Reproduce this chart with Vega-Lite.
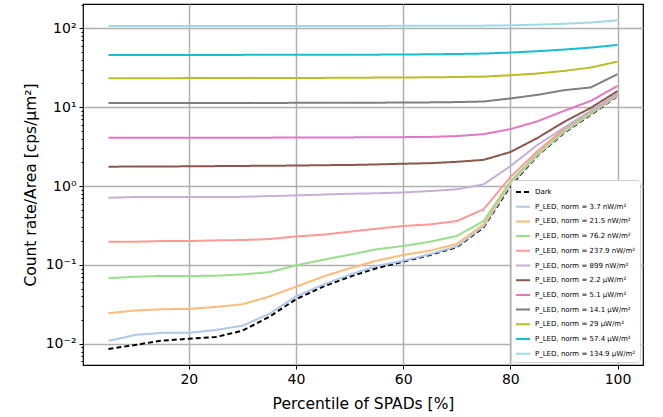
{
  "$schema": "https://vega.github.io/schema/vega-lite/v6.json",
  "width": 560,
  "height": 361,
  "autosize": "none",
  "padding": {"left": 83, "top": 4, "right": 20, "bottom": 52},
  "background": "white",
  "config": {
    "font": "DejaVu Sans",
    "view": {"stroke": "black", "strokeWidth": 1.2},
    "axis": {"labelFont": "DejaVu Sans", "titleFont": "DejaVu Sans", "labelFontSize": 14, "titleFontSize": 15.5, "titleFontWeight": "normal", "labelColor": "black", "titleColor": "black", "tickColor": "black", "domain": false, "gridColor": "#b0b0b0", "gridWidth": 1.5}
  },
  "data": {"values": [
    {"s":"Dark","x":5,"y":0.0086},{"s":"Dark","x":10,"y":0.0097},{"s":"Dark","x":15,"y":0.011},{"s":"Dark","x":20,"y":0.0116},{"s":"Dark","x":25,"y":0.0122},{"s":"Dark","x":30,"y":0.0147},{"s":"Dark","x":35,"y":0.022},{"s":"Dark","x":40,"y":0.0368},{"s":"Dark","x":45,"y":0.053},{"s":"Dark","x":50,"y":0.071},{"s":"Dark","x":55,"y":0.091},{"s":"Dark","x":60,"y":0.11},{"s":"Dark","x":65,"y":0.134},{"s":"Dark","x":70,"y":0.168},{"s":"Dark","x":75,"y":0.3},{"s":"Dark","x":80,"y":1.0},{"s":"Dark","x":85,"y":2.4},{"s":"Dark","x":90,"y":4.7},{"s":"Dark","x":95,"y":8.0},{"s":"Dark","x":100,"y":13.8},
    {"s":"a","x":5,"y":0.0109},{"s":"a","x":10,"y":0.013},{"s":"a","x":15,"y":0.0138},{"s":"a","x":20,"y":0.0138},{"s":"a","x":25,"y":0.015},{"s":"a","x":30,"y":0.017},{"s":"a","x":35,"y":0.024},{"s":"a","x":40,"y":0.04},{"s":"a","x":45,"y":0.056},{"s":"a","x":50,"y":0.075},{"s":"a","x":55,"y":0.097},{"s":"a","x":60,"y":0.113},{"s":"a","x":65,"y":0.137},{"s":"a","x":70,"y":0.172},{"s":"a","x":75,"y":0.31},{"s":"a","x":80,"y":1.05},{"s":"a","x":85,"y":2.45},{"s":"a","x":90,"y":4.8},{"s":"a","x":95,"y":8.2},{"s":"a","x":100,"y":14.0},
    {"s":"b","x":5,"y":0.0245},{"s":"b","x":10,"y":0.0265},{"s":"b","x":15,"y":0.0275},{"s":"b","x":20,"y":0.0277},{"s":"b","x":25,"y":0.0294},{"s":"b","x":30,"y":0.0318},{"s":"b","x":35,"y":0.0398},{"s":"b","x":40,"y":0.053},{"s":"b","x":45,"y":0.071},{"s":"b","x":50,"y":0.091},{"s":"b","x":55,"y":0.113},{"s":"b","x":60,"y":0.134},{"s":"b","x":65,"y":0.152},{"s":"b","x":70,"y":0.185},{"s":"b","x":75,"y":0.327},{"s":"b","x":80,"y":1.1},{"s":"b","x":85,"y":2.5},{"s":"b","x":90,"y":4.9},{"s":"b","x":95,"y":8.3},{"s":"b","x":100,"y":14.2},
    {"s":"c","x":5,"y":0.068},{"s":"c","x":10,"y":0.071},{"s":"c","x":15,"y":0.0726},{"s":"c","x":20,"y":0.0726},{"s":"c","x":25,"y":0.073},{"s":"c","x":30,"y":0.076},{"s":"c","x":35,"y":0.081},{"s":"c","x":40,"y":0.099},{"s":"c","x":45,"y":0.116},{"s":"c","x":50,"y":0.135},{"s":"c","x":55,"y":0.158},{"s":"c","x":60,"y":0.174},{"s":"c","x":65,"y":0.197},{"s":"c","x":70,"y":0.233},{"s":"c","x":75,"y":0.36},{"s":"c","x":80,"y":1.15},{"s":"c","x":85,"y":2.55},{"s":"c","x":90,"y":4.95},{"s":"c","x":95,"y":8.4},{"s":"c","x":100,"y":14.3},
    {"s":"d","x":5,"y":0.197},{"s":"d","x":10,"y":0.197},{"s":"d","x":15,"y":0.201},{"s":"d","x":20,"y":0.201},{"s":"d","x":25,"y":0.205},{"s":"d","x":30,"y":0.207},{"s":"d","x":35,"y":0.213},{"s":"d","x":40,"y":0.23},{"s":"d","x":45,"y":0.242},{"s":"d","x":50,"y":0.264},{"s":"d","x":55,"y":0.288},{"s":"d","x":60,"y":0.312},{"s":"d","x":65,"y":0.327},{"s":"d","x":70,"y":0.36},{"s":"d","x":75,"y":0.507},{"s":"d","x":80,"y":1.3},{"s":"d","x":85,"y":2.75},{"s":"d","x":90,"y":5.3},{"s":"d","x":95,"y":8.9},{"s":"d","x":100,"y":14.6},
    {"s":"e","x":5,"y":0.711},{"s":"e","x":10,"y":0.726},{"s":"e","x":15,"y":0.726},{"s":"e","x":20,"y":0.726},{"s":"e","x":25,"y":0.726},{"s":"e","x":30,"y":0.73},{"s":"e","x":35,"y":0.747},{"s":"e","x":40,"y":0.762},{"s":"e","x":45,"y":0.78},{"s":"e","x":50,"y":0.8},{"s":"e","x":55,"y":0.81},{"s":"e","x":60,"y":0.83},{"s":"e","x":65,"y":0.865},{"s":"e","x":70,"y":0.91},{"s":"e","x":75,"y":1.05},{"s":"e","x":80,"y":1.79},{"s":"e","x":85,"y":3.3},{"s":"e","x":90,"y":5.5},{"s":"e","x":95,"y":9.0},{"s":"e","x":100,"y":14.9},
    {"s":"f","x":5,"y":1.76},{"s":"f","x":10,"y":1.77},{"s":"f","x":15,"y":1.77},{"s":"f","x":20,"y":1.78},{"s":"f","x":25,"y":1.79},{"s":"f","x":30,"y":1.8},{"s":"f","x":35,"y":1.81},{"s":"f","x":40,"y":1.82},{"s":"f","x":45,"y":1.84},{"s":"f","x":50,"y":1.85},{"s":"f","x":55,"y":1.88},{"s":"f","x":60,"y":1.92},{"s":"f","x":65,"y":1.95},{"s":"f","x":70,"y":2.03},{"s":"f","x":75,"y":2.15},{"s":"f","x":80,"y":2.7},{"s":"f","x":85,"y":4.05},{"s":"f","x":90,"y":6.5},{"s":"f","x":95,"y":9.8},{"s":"f","x":100,"y":16.0},
    {"s":"g","x":5,"y":4.09},{"s":"g","x":10,"y":4.09},{"s":"g","x":15,"y":4.09},{"s":"g","x":20,"y":4.1},{"s":"g","x":25,"y":4.1},{"s":"g","x":30,"y":4.1},{"s":"g","x":35,"y":4.11},{"s":"g","x":40,"y":4.12},{"s":"g","x":45,"y":4.13},{"s":"g","x":50,"y":4.14},{"s":"g","x":55,"y":4.15},{"s":"g","x":60,"y":4.17},{"s":"g","x":65,"y":4.2},{"s":"g","x":70,"y":4.3},{"s":"g","x":75,"y":4.55},{"s":"g","x":80,"y":5.27},{"s":"g","x":85,"y":6.6},{"s":"g","x":90,"y":8.97},{"s":"g","x":95,"y":12.0},{"s":"g","x":100,"y":18.6},
    {"s":"h","x":5,"y":11.3},{"s":"h","x":10,"y":11.3},{"s":"h","x":15,"y":11.3},{"s":"h","x":20,"y":11.3},{"s":"h","x":25,"y":11.3},{"s":"h","x":30,"y":11.3},{"s":"h","x":35,"y":11.3},{"s":"h","x":40,"y":11.35},{"s":"h","x":45,"y":11.35},{"s":"h","x":50,"y":11.4},{"s":"h","x":55,"y":11.4},{"s":"h","x":60,"y":11.45},{"s":"h","x":65,"y":11.5},{"s":"h","x":70,"y":11.6},{"s":"h","x":75,"y":11.8},{"s":"h","x":80,"y":12.9},{"s":"h","x":85,"y":14.3},{"s":"h","x":90,"y":16.4},{"s":"h","x":95,"y":17.8},{"s":"h","x":100,"y":26.2},
    {"s":"i","x":5,"y":23.3},{"s":"i","x":10,"y":23.3},{"s":"i","x":15,"y":23.3},{"s":"i","x":20,"y":23.35},{"s":"i","x":25,"y":23.4},{"s":"i","x":30,"y":23.4},{"s":"i","x":35,"y":23.45},{"s":"i","x":40,"y":23.5},{"s":"i","x":45,"y":23.5},{"s":"i","x":50,"y":23.6},{"s":"i","x":55,"y":23.7},{"s":"i","x":60,"y":23.8},{"s":"i","x":65,"y":23.9},{"s":"i","x":70,"y":24.1},{"s":"i","x":75,"y":24.4},{"s":"i","x":80,"y":25.4},{"s":"i","x":85,"y":26.7},{"s":"i","x":90,"y":28.8},{"s":"i","x":95,"y":31.8},{"s":"i","x":100,"y":37.8},
    {"s":"j","x":5,"y":45.9},{"s":"j","x":10,"y":45.9},{"s":"j","x":15,"y":45.9},{"s":"j","x":20,"y":45.9},{"s":"j","x":25,"y":45.9},{"s":"j","x":30,"y":46.0},{"s":"j","x":35,"y":46.0},{"s":"j","x":40,"y":46.0},{"s":"j","x":45,"y":46.1},{"s":"j","x":50,"y":46.2},{"s":"j","x":55,"y":46.3},{"s":"j","x":60,"y":46.5},{"s":"j","x":65,"y":46.8},{"s":"j","x":70,"y":47.2},{"s":"j","x":75,"y":47.8},{"s":"j","x":80,"y":49.2},{"s":"j","x":85,"y":51.2},{"s":"j","x":90,"y":53.7},{"s":"j","x":95,"y":56.9},{"s":"j","x":100,"y":61.5},
    {"s":"k","x":5,"y":107},{"s":"k","x":10,"y":107},{"s":"k","x":15,"y":107},{"s":"k","x":20,"y":107},{"s":"k","x":25,"y":107},{"s":"k","x":30,"y":107},{"s":"k","x":35,"y":107},{"s":"k","x":40,"y":107},{"s":"k","x":45,"y":107},{"s":"k","x":50,"y":107},{"s":"k","x":55,"y":107},{"s":"k","x":60,"y":107.5},{"s":"k","x":65,"y":107.5},{"s":"k","x":70,"y":108},{"s":"k","x":75,"y":108},{"s":"k","x":80,"y":109},{"s":"k","x":85,"y":111},{"s":"k","x":90,"y":114},{"s":"k","x":95,"y":118},{"s":"k","x":100,"y":126}
  ]},
  "mark": {"type": "line", "strokeWidth": 2, "clip": true},
  "encoding": {
    "x": {"field": "x", "type": "quantitative", "scale": {"domain": [0.25, 104.75], "nice": false, "zero": false},
      "axis": {"title": "Percentile of SPADs [%]", "values": [20, 40, 60, 80, 100], "tickSize": 4, "labelPadding": 3, "titlePadding": 10, "grid": true}},
    "y": {"field": "y", "type": "quantitative", "scale": {"type": "log", "domain": [0.0054, 203], "nice": false},
      "axis": {"title": "Count rate/Area [cps/μm²]", "titlePadding": 7,
        "values": [0.006,0.007,0.008,0.009,0.01,0.02,0.03,0.04,0.05,0.06,0.07,0.08,0.09,0.1,0.2,0.3,0.4,0.5,0.6,0.7,0.8,0.9,1,2,3,4,5,6,7,8,9,10,20,30,40,50,60,70,80,90,100,200],
        "labelExpr": "datum.value == 100 ? '10²' : datum.value == 10 ? '10¹' : datum.value == 1 ? '10⁰' : datum.value == 0.1 ? '10⁻¹' : datum.value == 0.01 ? '10⁻²' : ''",
        "tickSize": {"condition": {"test": "indexof([0.01,0.1,1,10,100], datum.value) >= 0", "value": 4}, "value": 2},
        "gridOpacity": {"condition": {"test": "indexof([0.01,0.1,1,10,100], datum.value) >= 0", "value": 1}, "value": 0},
        "labelPadding": 3, "labelFlush": false, "labelOverlap": false}},
    "color": {"field": "s", "type": "nominal", "sort": null,
      "scale": {"domain": ["Dark","a","b","c","d","e","f","g","h","i","j","k"],
        "range": ["#000000","#aec7e8","#ffbb78","#98df8a","#ff9896","#c5b0d5","#8c564b","#e377c2","#7f7f7f","#bcbd22","#17becf","#9edae5"]},
      "legend": {"title": null, "orient": "bottom-right", "offset": 3, "symbolType": "stroke", "symbolSize": 196, "symbolStrokeWidth": 2, "labelFontSize": 7, "labelFont": "DejaVu Sans", "rowPadding": 2.7, "padding": 4, "strokeColor": "#d0d0d0", "fillColor": "white", "cornerRadius": 3, "labelLimit": 200,
        "labelExpr": "datum.value == 'Dark' ? 'Dark' : datum.value == 'a' ? 'P_LED, norm = 3.7 nW/m²' : datum.value == 'b' ? 'P_LED, norm = 21.5 nW/m²' : datum.value == 'c' ? 'P_LED, norm = 76.2 nW/m²' : datum.value == 'd' ? 'P_LED, norm = 237.9 nW/m²' : datum.value == 'e' ? 'P_LED, norm = 899 nW/m²' : datum.value == 'f' ? 'P_LED, norm = 2.2 μW/m²' : datum.value == 'g' ? 'P_LED, norm = 5.1 μW/m²' : datum.value == 'h' ? 'P_LED, norm = 14.1 μW/m²' : datum.value == 'i' ? 'P_LED, norm = 29 μW/m²' : datum.value == 'j' ? 'P_LED, norm = 57.4 μW/m²' : 'P_LED, norm = 134.9 μW/m²'"}},
    "strokeDash": {"field": "s", "type": "nominal", "sort": null,
      "scale": {"domain": ["Dark","a","b","c","d","e","f","g","h","i","j","k"],
        "range": [[5,3],[1,0],[1,0],[1,0],[1,0],[1,0],[1,0],[1,0],[1,0],[1,0],[1,0],[1,0]]},
      "legend": null}
  }
}
